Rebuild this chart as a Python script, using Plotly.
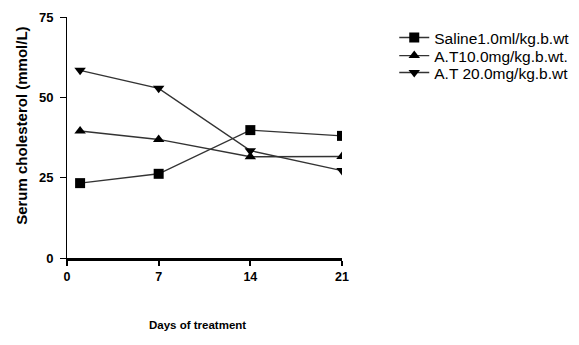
import plotly.graph_objects as go

days = [1, 7, 14, 21]
saline = [23.3, 26.2, 39.8, 38.0]
at10 = [39.5, 36.9, 31.5, 31.6]
at20 = [58.4, 52.8, 33.4, 27.2]

names = ["Saline1.0ml/kg.b.wt", "A.T10.0mg/kg.b.wt.", "A.T 20.0mg/kg.b.wt"]
symbols = ["square", "triangle-up", "triangle-down"]
tick_days = [0, 7, 14, 21]
tick_chol = [0, 25, 50, 75]

font = "Liberation Sans, Arial, sans-serif"
legend_ids = ["legend", "legend2", "legend3"]
legend_y = [0.913, 0.838, 0.768]

fig = go.Figure()
for ys, nm, sym, lg in zip([saline, at10, at20], names, symbols, legend_ids):
    fig.add_trace(go.Scatter(
        x=days, y=ys, name=nm, mode="lines+markers", legend=lg,
        line=dict(color="#333333", width=1.4),
        marker=dict(symbol=sym, size=10, color="black"),
    ))

legend_common = dict(x=1.19, xanchor="left", yanchor="middle",
                     font=dict(family=font, size=15.5, color="black"),
                     itemwidth=30, bgcolor="rgba(0,0,0,0)")

fig.update_layout(
    width=579, height=345,
    margin=dict(l=59, r=245, t=9, b=95, autoexpand=False),
    paper_bgcolor="white", plot_bgcolor="white",
    showlegend=True,
    legend=dict(y=legend_y[0], **legend_common),
    legend2=dict(y=legend_y[1], **legend_common),
    legend3=dict(y=legend_y[2], **legend_common),
    font=dict(family=font, color="black"),
    annotations=[
        dict(text="<b>Days of treatment</b>", xref="paper", yref="paper",
             x=0.473, y=-0.278, xanchor="center", yanchor="middle", showarrow=False,
             font=dict(family=font, size=11.5, color="black")),
        dict(text="<b>Serum cholesterol (mmol/L)</b>", xref="paper", yref="paper",
             x=-0.164, y=0.548, xanchor="center", yanchor="middle", showarrow=False,
             textangle=-90, font=dict(family=font, size=15, color="black")),
    ],
)
fig.update_xaxes(
    range=[0, 21], tickvals=tick_days, ticktext=[str(v) for v in tick_days],
    showgrid=False, zeroline=False, showline=True, linecolor="black", linewidth=2.5,
    ticks="outside", ticklen=5, tickwidth=1.5, tickcolor="black", automargin=False,
    tickfont=dict(family=font, size=12.5, color="black", weight="bold"),
)
fig.update_yaxes(
    range=[0, 75], tickvals=tick_chol,
    showgrid=False, zeroline=False, showline=True, linecolor="black", linewidth=1,
    ticks="outside", ticklen=6, tickwidth=1, tickcolor="black", automargin=False,
    ticklabelstandoff=4,
    tickfont=dict(family=font, size=13, color="black", weight="bold"),
)

fig.write_html("out.html")
